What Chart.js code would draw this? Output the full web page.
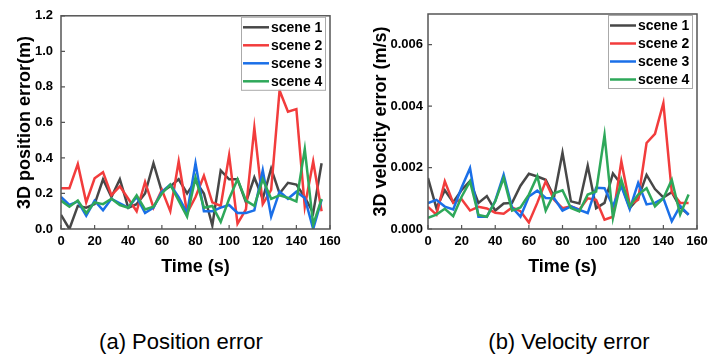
<!DOCTYPE html>
<html>
<head>
<meta charset="utf-8">
<script src="https://cdn.jsdelivr.net/npm/chart.js@4.4.0/dist/chart.umd.min.js"></script>
<style>
body { margin:0; background:#fff; width:722px; height:360px; position:relative; overflow:hidden; font-family:'Liberation Sans', Arial, sans-serif; }
#wrapA { position:absolute; left:0; top:0; width:361px; height:290px; }
#wrapB { position:absolute; left:361px; top:0; width:361px; height:290px; }
.caption { position:absolute; top:329px; font-size:22px; line-height:26px; color:#000; transform:translateX(-50%); white-space:nowrap; }
</style>
</head>
<body>
<div id="wrapA"><canvas id="posCanvas" width="361" height="290"></canvas></div>
<div id="wrapB"><canvas id="velCanvas" width="361" height="290"></canvas></div>
<div class="caption" style="left:181px">(a) Position error</div>
<div class="caption" style="left:569px">(b) Velocity error</div>
<script>
var times = [0, 5, 10, 15, 20, 25, 30, 35, 40, 45, 50, 55, 60, 65, 70, 75,
             80, 85, 90, 95, 100, 105, 110, 115, 120, 125, 130, 135, 140, 145, 150, 155];
var sceneNames = ['scene 1', 'scene 2', 'scene 3', 'scene 4'];
var sceneColors = ['#474747', '#f23c3c', '#1a6fe8', '#2ea85a'];

// 3D position error (m)
var posScene1 = [0.08, 0.0, 0.13, 0.12, 0.14, 0.28, 0.18, 0.28, 0.12, 0.14, 0.20, 0.37, 0.21, 0.24, 0.28, 0.20,
                 0.27, 0.20, 0.02, 0.33, 0.28, 0.28, 0.15, 0.29, 0.17, 0.34, 0.20, 0.26, 0.25, 0.18, 0.09, 0.37];
var posScene2 = [0.23, 0.23, 0.365, 0.15, 0.285, 0.32, 0.19, 0.24, 0.17, 0.10, 0.265, 0.12, 0.22, 0.10, 0.38, 0.09,
                 0.18, 0.30, 0.15, 0.13, 0.415, 0.03, 0.11, 0.57, 0.14, 0.22, 0.78, 0.66, 0.675, 0.125, 0.38, 0.10];
var posScene3 = [0.18, 0.135, 0.155, 0.075, 0.16, 0.105, 0.17, 0.145, 0.12, 0.18, 0.09, 0.12, 0.21, 0.25, 0.18, 0.09,
                 0.37, 0.10, 0.10, 0.12, 0.135, 0.09, 0.09, 0.105, 0.33, 0.07, 0.21, 0.17, 0.21, 0.175, 0.0, 0.165];
var posScene4 = [0.16, 0.125, 0.16, 0.09, 0.15, 0.14, 0.17, 0.135, 0.12, 0.19, 0.11, 0.125, 0.20, 0.25, 0.16, 0.07,
                 0.29, 0.12, 0.13, 0.04, 0.17, 0.28, 0.16, 0.13, 0.28, 0.17, 0.19, 0.175, 0.155, 0.45, 0.025, 0.17];

// 3D velocity error (m/s)
var velScene1 = [0.00166, 0.00068, 0.00126, 0.00087, 0.00127, 0.00156, 0.00085, 0.00107, 0.0006, 0.00083, 0.00085, 0.00141, 0.0018, 0.00171, 0.0016, 0.00105,
                 0.00248, 0.0009, 0.00083, 0.00206, 0.00068, 0.00085, 0.00181, 0.00145, 0.00068, 0.001, 0.00176, 0.0013, 0.00103, 0.0012, 0.0007, 0.00047];
var velScene2 = [0.00072, 0.00047, 0.00155, 0.00085, 0.00097, 0.0006, 0.00072, 0.00067, 0.00053, 0.0005, 0.0007, 0.00058, 0.00021, 0.00085, 0.00155, 0.00095,
                 0.00068, 0.00074, 0.00063, 0.001, 0.00095, 0.0003, 0.0004, 0.0022, 0.00079, 0.00095, 0.0028, 0.0031, 0.0041, 0.0012, 0.00085, 0.00085];
var velScene3 = [0.00084, 0.00095, 0.00073, 0.00064, 0.00135, 0.00198, 0.0004, 0.0004, 0.00092, 0.00177, 0.0007, 0.0004, 0.00106, 0.00125, 0.00101, 0.001,
                 0.0006, 0.00074, 0.00062, 0.00052, 0.00134, 0.00133, 0.00075, 0.0014, 0.00065, 0.0015, 0.0008, 0.00085, 0.001, 0.00025, 0.00075, 0.00046];
var velScene4 = [0.00036, 0.00047, 0.00066, 0.00042, 0.00105, 0.00155, 0.00046, 0.0004, 0.0009, 0.00166, 0.0006, 0.0007, 0.00112, 0.00172, 0.0006, 0.00116,
                 0.00126, 0.00068, 0.00057, 0.00112, 0.00122, 0.00306, 0.00036, 0.0016, 0.00074, 0.00112, 0.00133, 0.00074, 0.001, 0.0016, 0.00047, 0.00112];

var xTicks = [0, 20, 40, 60, 80, 100, 120, 140, 160];
var posTicks = [0, 0.2, 0.4, 0.6, 0.8, 1.0, 1.2];
var velTicks = [0, 0.002, 0.004, 0.006];

var FONT = "'Liberation Sans', Arial, sans-serif";

function toPoints(values) {
    return values.map(function (v, i) { return { x: times[i], y: v }; });
}

function makeDatasets(seriesList) {
    return seriesList.map(function (values, i) {
        return {
            label: sceneNames[i],
            data: toPoints(values),
            borderColor: sceneColors[i],
            backgroundColor: sceneColors[i],
            borderWidth: 2.5,
            pointRadius: 0,
            tension: 0,
            order: 4 - i
        };
    });
}

// box around plot + inward tick marks
var framePlugin = {
    id: 'frame',
    afterDatasetsDraw: function (chart) {
        var ctx = chart.ctx, a = chart.chartArea;
        ctx.save();
        ctx.strokeStyle = '#555';
        ctx.lineWidth = 1.5;
        ctx.strokeRect(a.left, a.top, a.right - a.left, a.bottom - a.top);
        ctx.lineWidth = 1.2;
        ctx.beginPath();
        chart.scales.x.ticks.forEach(function (t) {
            var px = chart.scales.x.getPixelForValue(t.value);
            ctx.moveTo(px, a.bottom);
            ctx.lineTo(px, a.bottom - 4);
        });
        chart.scales.y.ticks.forEach(function (t) {
            var py = chart.scales.y.getPixelForValue(t.value);
            ctx.moveTo(a.left, py);
            ctx.lineTo(a.left + 4, py);
        });
        ctx.stroke();
        ctx.restore();
    }
};

// legend box inside the top right corner
var boxLegendPlugin = {
    id: 'boxLegend',
    afterDraw: function (chart) {
        var ctx = chart.ctx, a = chart.chartArea;
        var sets = chart.data.datasets;
        var w = 84, h = 73;
        var left = a.right - 5 - w, top = a.top + 1;
        ctx.save();
        ctx.fillStyle = '#fff';
        ctx.fillRect(left, top, w, h);
        ctx.strokeStyle = '#aaa';
        ctx.lineWidth = 1;
        ctx.strokeRect(left + 0.5, top + 0.5, w, h);
        ctx.font = 'bold 14px ' + FONT;
        ctx.textBaseline = 'middle';
        sets.forEach(function (ds, i) {
            var yy = top + 10.5 + i * 18;
            ctx.strokeStyle = ds.borderColor;
            ctx.lineWidth = 2.5;
            ctx.beginPath();
            ctx.moveTo(left + 2, yy);
            ctx.lineTo(left + 28, yy);
            ctx.stroke();
            ctx.fillStyle = '#000';
            ctx.fillText(ds.label, left + 30, yy + 1);
        });
        ctx.restore();
    }
};

function makeChart(canvasId, seriesList, yOpts) {
    return new Chart(document.getElementById(canvasId), {
        type: 'line',
        data: { datasets: makeDatasets(seriesList) },
        options: {
            responsive: false,
            animation: false,
            devicePixelRatio: 1,
            layout: { padding: { left: 0, top: yOpts.top, right: yOpts.right, bottom: 0 } },
            plugins: { legend: { display: false }, tooltip: { enabled: false } },
            scales: {
                x: {
                    type: 'linear',
                    min: 0,
                    max: 160,
                    border: { display: false },
                    grid: { display: false, drawTicks: false },
                    afterBuildTicks: function (s) { s.ticks = xTicks.map(function (v) { return { value: v }; }); },
                    ticks: { padding: 5, color: '#000', font: { family: FONT, size: 13, weight: 'bold' }, maxRotation: 0 },
                    title: { display: true, text: 'Time (s)', color: '#000', font: { family: FONT, size: 18, weight: 'bold' }, padding: { top: 0, bottom: 12.5 } },
                    afterFit: function (s) { s.height = 61; }
                },
                y: {
                    min: 0,
                    max: yOpts.max,
                    border: { display: false },
                    grid: { display: false, drawTicks: false },
                    afterBuildTicks: function (s) { s.ticks = yOpts.ticks.map(function (v) { return { value: v }; }); },
                    ticks: {
                        padding: yOpts.tickPad, color: '#000', font: { family: FONT, size: 13, weight: 'bold' },
                        callback: function (v) { return v.toFixed(yOpts.decimals); }
                    },
                    title: { display: true, text: yOpts.title, color: '#000', font: { family: FONT, size: 18, weight: 'bold' }, padding: { top: yOpts.titlePad, bottom: 0 } },
                    afterFit: function (s) { s.width = yOpts.axisLeft; }
                }
            }
        },
        plugins: [framePlugin, boxLegendPlugin]
    });
}

makeChart('posCanvas', [posScene1, posScene2, posScene3, posScene4], {
    max: 1.2, ticks: posTicks, decimals: 1, title: '3D position error(m)',
    top: 15, right: 31, axisLeft: 61, tickPad: 8, titlePad: 14
});
makeChart('velCanvas', [velScene1, velScene2, velScene3, velScene4], {
    max: 0.007, ticks: velTicks, decimals: 3, title: '3D velocity error (m/s)',
    top: 14, right: 25, axisLeft: 67, tickPad: 5, titlePad: 9
});
</script>
</body>
</html>
